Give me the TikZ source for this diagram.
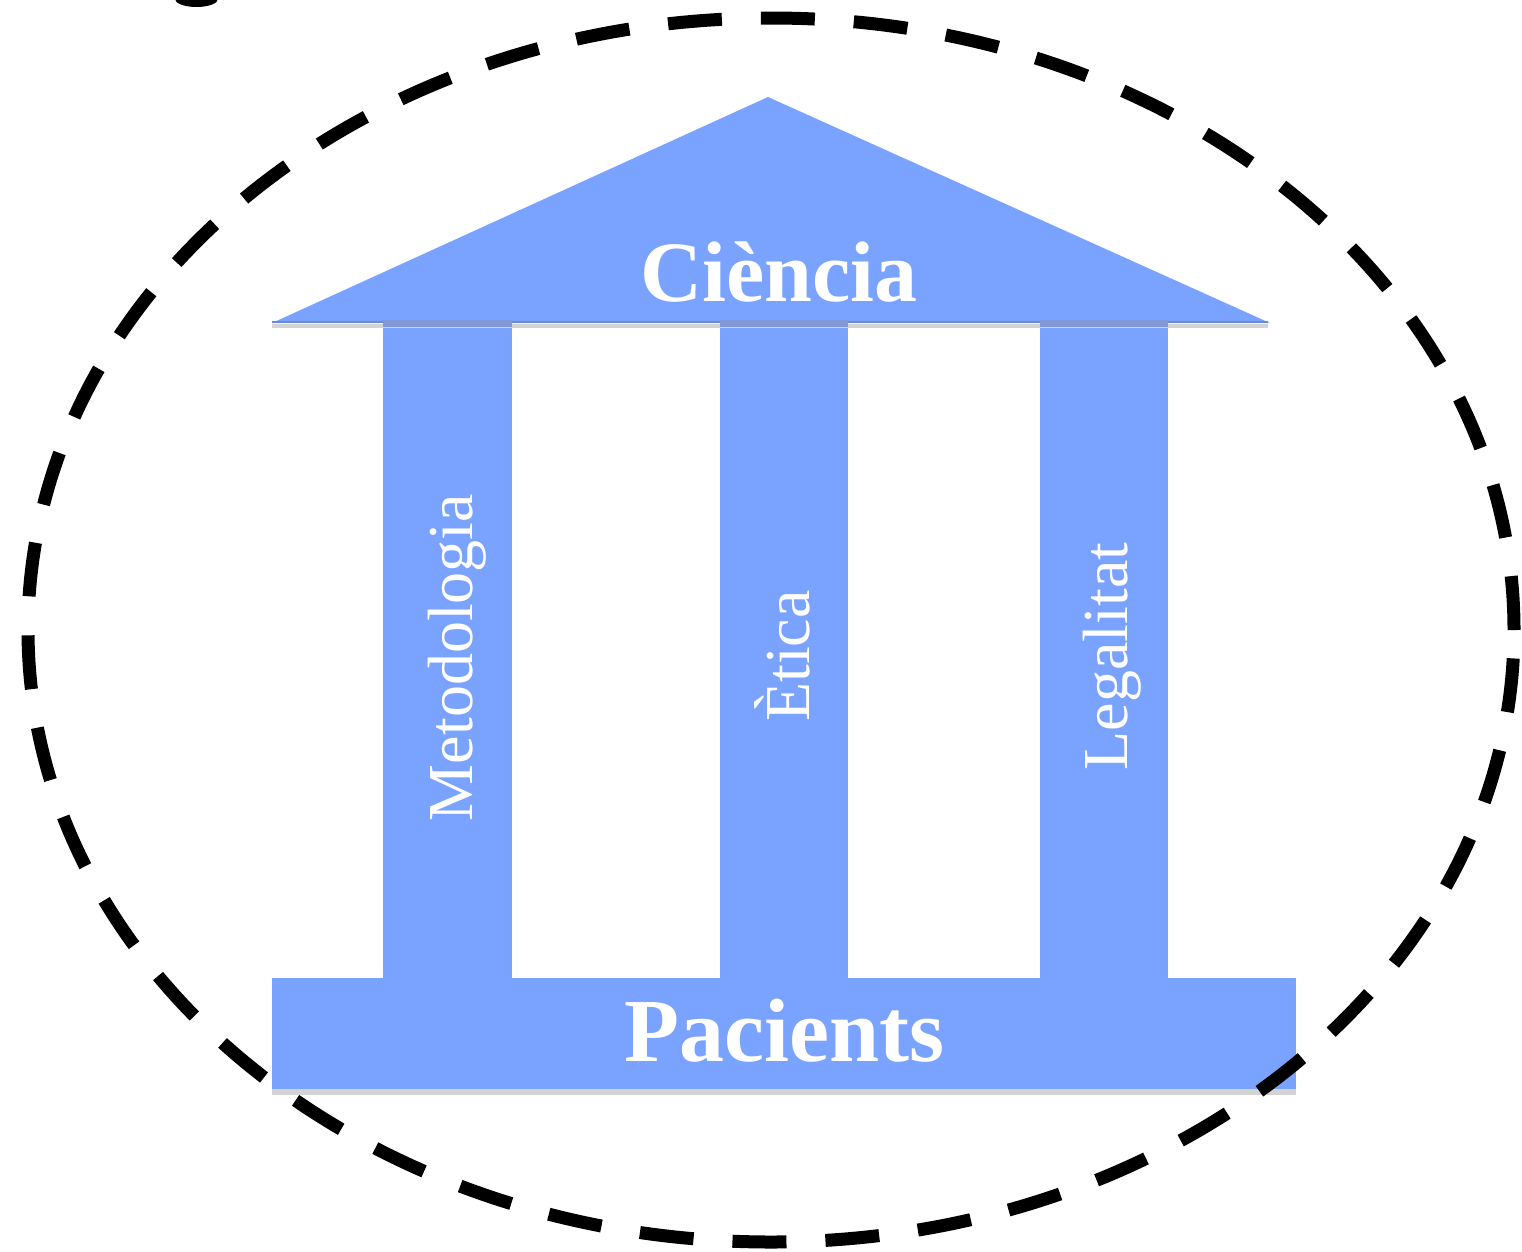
\documentclass[tikz,border=0pt]{standalone}
\usepackage{fontspec}
\setmainfont{Liberation Serif}
\definecolor{pillar}{HTML}{7AA3FF}
\definecolor{roofline}{HTML}{6A8AD2}
\definecolor{band}{HTML}{7F98D8}
\definecolor{shadowgray}{HTML}{D3D3D3}
\tikzset{
  pillarfill/.style={fill=pillar},
  title/.style={text=white, font=\fontsize{86}{90}\selectfont\bfseries, inner sep=0pt, anchor=base},
  coltext/.style={text=white, font=\fontsize{64}{70}\selectfont, inner sep=0pt, anchor=base, rotate=90},
  outline/.style={line width=13pt, dash pattern=on 54pt off 39pt}
}
\begin{document}
\begin{tikzpicture}[x=1pt,y=-1pt]
\useasboundingbox (0,0) rectangle (1522,1251);
\clip (0,0) rectangle (1522,1251);
% clipped blob top-left
\fill (196.5,-1) ellipse [x radius=21.5pt, y radius=8pt];
% base
\fill[shadowgray] (272,1089) rectangle (1296,1095);
\fill[pillarfill] (272,978) rectangle (1296,1089);
% columns
\fill[pillarfill] (383,320) rectangle (512,979);
\fill[pillarfill] (720,320) rectangle (848,979);
\fill[pillarfill] (1040,320) rectangle (1168,979);
% roof
\fill[pillarfill] (768,97) -- (1270,323) -- (272,323) -- cycle;
\draw[shadowgray, line width=4pt] (272,326) -- (1268,326);
\draw[roofline, line width=2pt] (272,322) -- (1268,322);
\fill[band] (383,320) rectangle (512,327);
\fill[band] (720,320) rectangle (848,327);
\fill[band] (1040,320) rectangle (1168,327);
% texts
\node[title] (ciencia) at (779,301) {Ciència};
\node[title, font=\fontsize{90}{94}\selectfont\bfseries] (pacients) at (784.5,1061) {Pacients};
\node[coltext] (metodologia) at (472,657.5) {Metodologia};
\node[coltext] (etica) at (809,656) {Ètica};
\node[coltext] (legalitat) at (1127,656.5) {Legalitat};
% dashed ellipse
\draw[outline] (771,630) ellipse [x radius=743pt, y radius=612pt];
\end{tikzpicture}
\end{document}
